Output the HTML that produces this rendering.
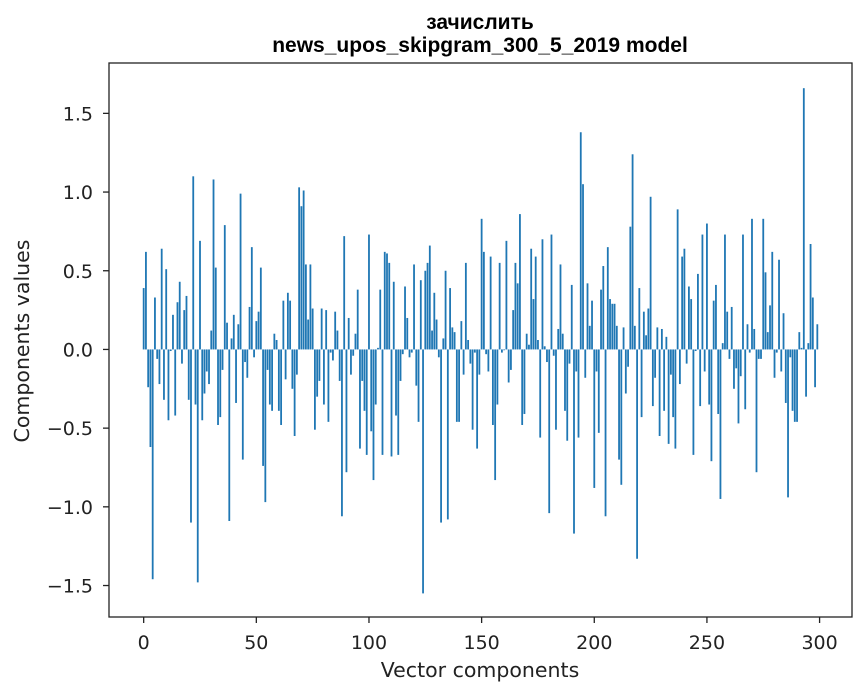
<!DOCTYPE html>
<html><head><meta charset="utf-8"><style>
html,body{margin:0;padding:0;background:#fff;}
svg{display:block;font-family:"DejaVu Sans","Liberation Sans",sans-serif;}
</style></head><body>
<svg id="chart" width="867" height="696" viewBox="0 0 867 696" xmlns="http://www.w3.org/2000/svg">
<rect width="867" height="696" fill="#fff"/>
<text x="480" y="29" text-anchor="middle" font-size="21" font-weight="bold" font-family="Liberation Sans, sans-serif">зачислить</text>
<text x="480" y="52" text-anchor="middle" font-size="21" font-weight="bold" font-family="Liberation Sans, sans-serif">news_upos_skipgram_300_5_2019 model</text>
<g id="bars"></g>
<g id="xticks"></g>
<g id="yticks"></g>
<rect x="109" y="63" width="743" height="554" fill="none" stroke="#222" stroke-width="1.3"/>
<text x="480" y="677" text-anchor="middle" font-size="20.5" fill="#222">Vector components</text>
<text transform="translate(29,341) rotate(-90)" text-anchor="middle" font-size="20.5" fill="#222">Components values</text>
</svg>
<script>
const values = [
0.39,0.62,-0.24,-0.62,-1.46,0.33,-0.06,-0.22,0.64,-0.32,
0.51,-0.45,-0.01,0.22,-0.42,0.30,0.43,-0.09,0.25,0.34,
-0.32,-1.10,1.10,-0.35,-1.48,0.69,-0.45,-0.28,-0.14,-0.22,
0.12,1.08,0.52,-0.48,-0.43,-0.13,0.79,0.17,-1.09,0.07,
0.22,-0.34,0.16,0.99,-0.70,-0.08,-0.18,0.27,0.65,-0.05,
0.18,0.24,0.52,-0.74,-0.97,-0.13,-0.35,-0.39,0.10,0.06,
-0.39,-0.48,0.31,-0.19,0.36,0.31,-0.25,-0.55,-0.16,1.03,
0.91,1.01,0.54,0.19,0.54,0.26,-0.51,-0.30,-0.20,0.26,
-0.35,0.25,-0.46,-0.02,-0.07,0.24,0.12,-0.20,-1.06,0.72,
-0.78,0.20,-0.16,-0.04,0.10,0.38,-0.63,-0.20,-0.39,-0.67,
0.73,-0.52,-0.83,-0.35,0.01,0.38,-0.67,0.62,0.61,0.55,
-0.68,0.43,-0.42,-0.67,-0.20,-0.03,0.40,0.20,-0.05,-0.02,
0.54,-0.23,-0.46,0.44,-1.55,0.50,0.55,0.66,0.12,0.36,
0.19,-0.05,-1.10,0.07,0.50,-1.08,0.39,0.14,0.11,-0.46,
-0.46,0.18,-0.16,0.55,0.06,-0.09,-0.51,-0.02,-0.63,-0.16,
0.83,0.62,-0.03,-0.14,0.59,-0.48,-0.83,-0.35,0.55,-0.02,
-0.005,0.69,-0.21,-0.13,0.25,0.55,0.42,0.86,-0.48,-0.41,
0.10,0.03,0.64,0.32,0.59,0.06,-0.56,0.70,0.02,-0.08,
-1.04,0.73,-0.04,-0.51,0.13,0.54,0.10,-0.39,-0.58,-0.09,
0.41,-1.17,-0.14,-0.56,1.38,1.05,-0.18,0.42,0.15,0.31,
-0.88,-0.14,-0.53,0.38,0.53,-1.06,0.65,0.32,0.29,0.29,
0.15,-0.70,-0.86,0.14,-0.28,-0.11,0.78,1.24,0.15,-1.33,
0.39,-0.43,0.24,0.09,0.26,0.97,-0.36,-0.18,0.14,-0.55,
0.13,-0.39,0.08,-0.60,-0.16,-0.43,-0.63,0.89,-0.22,0.59,
0.64,-0.09,0.40,0.32,-0.67,-0.01,0.48,-0.36,0.73,-0.14,
0.80,-0.35,-0.71,0.31,0.41,-0.41,-0.95,0.04,0.73,0.24,
-0.06,0.27,-0.25,-0.12,-0.47,-0.17,0.73,-0.38,0.16,-0.02,
0.83,0.13,-0.78,-0.06,-0.06,0.83,0.49,0.11,0.28,0.62,
-0.18,-0.02,0.57,-0.14,0.23,-0.34,-0.94,-0.05,-0.39,-0.46,
-0.46,0.11,0.01,1.66,-0.30,0.04,0.67,0.33,-0.24,0.16
];
const xTickValues = [0,50,100,150,200,250,300];
const yTickValues = [-1.5,-1.0,-0.5,0.0,0.5,1.0,1.5];
const yTickLabels = ["\u22121.5","\u22121.0","\u22120.5","0.0","0.5","1.0","1.5"];

const NS = "http://www.w3.org/2000/svg";
const X0 = 109, X1 = 852, Y0 = 617, Y1 = 63;
const xMin = -15.39, xMax = 314.39, yMin = -1.70, yMax = 1.82;
function xScale(v){ return X0 + (v - xMin) / (xMax - xMin) * (X1 - X0); }
function yScale(v){ return Y0 - (v - yMin) / (yMax - yMin) * (Y0 - Y1); }

const barsG = document.getElementById('bars');
const bw = xScale(0.8) - xScale(0);
values.forEach((v, i) => {
  const r = document.createElementNS(NS, 'rect');
  const y0 = yScale(0), y1 = yScale(v);
  r.setAttribute('x', xScale(i) - bw/2);
  r.setAttribute('y', Math.min(y0, y1));
  r.setAttribute('width', bw);
  r.setAttribute('height', Math.max(Math.abs(y1 - y0), 0.5));
  r.setAttribute('fill', '#1f77b4');
  
  
  barsG.appendChild(r);
});

const xg = document.getElementById('xticks');
xTickValues.forEach(t => {
  const x = xScale(t);
  const l = document.createElementNS(NS, 'line');
  l.setAttribute('x1', x); l.setAttribute('x2', x);
  l.setAttribute('y1', Y0); l.setAttribute('y2', Y0 + 6);
  l.setAttribute('stroke', '#222'); l.setAttribute('stroke-width', '1.3');
  
  
  xg.appendChild(l);
  const tx = document.createElementNS(NS, 'text');
  tx.setAttribute('x', x); tx.setAttribute('y', Y0 + 32);
  tx.setAttribute('text-anchor', 'middle'); tx.setAttribute('font-size', '19');
  tx.setAttribute('fill', '#222');
  tx.textContent = String(t);
  
  
  xg.appendChild(tx);
});

const yg = document.getElementById('yticks');
yTickValues.forEach((t, i) => {
  const y = yScale(t);
  const l = document.createElementNS(NS, 'line');
  l.setAttribute('x1', X0 - 6); l.setAttribute('x2', X0);
  l.setAttribute('y1', y); l.setAttribute('y2', y);
  l.setAttribute('stroke', '#222'); l.setAttribute('stroke-width', '1.3');
  
  
  yg.appendChild(l);
  const tx = document.createElementNS(NS, 'text');
  tx.setAttribute('x', X0 - 16); tx.setAttribute('y', y + 7);
  tx.setAttribute('text-anchor', 'end'); tx.setAttribute('font-size', '19');
  tx.setAttribute('fill', '#222');
  tx.textContent = yTickLabels[i];
  
  
  yg.appendChild(tx);
});
</script>
</body></html>
